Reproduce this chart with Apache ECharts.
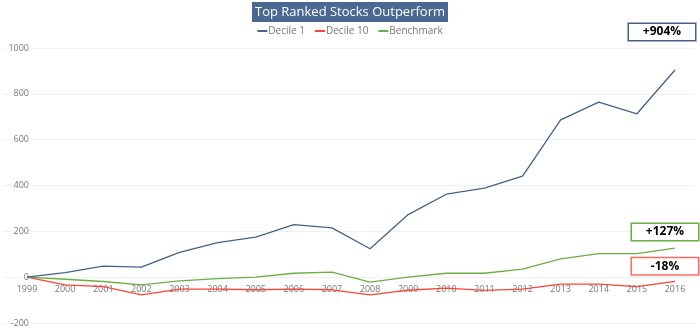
<!DOCTYPE html>
<html><head><meta charset="utf-8">
<script src="https://cdn.jsdelivr.net/npm/echarts@6/dist/echarts.min.js"></script>
<style>html,body{margin:0;padding:0;background:#fff}#c{width:700px;height:331px}</style>
</head><body><div id="c"></div>
<script>
var years = ['1999','2000','2001','2002','2003','2004','2005','2006','2007','2008','2009','2010','2011','2012','2013','2014','2015','2016'];
var decile1 = [0,20,48,44,108,151,175,229,215,124,273,362,389,441,686,764,713,904];
var decile10 = [0,-34,-41,-77,-52,-52,-55,-52,-55,-77,-57,-48,-58,-52,-30,-30,-41,-18];
var benchmark = [0,-9,-19,-34,-16,-6,0,17,22,-22,0,17,17,35,80,103,103,127];
var yTicks = {min:-200, max:1000, interval:200};
var endLabels = ['+904%','-18%','+127%'];

var FONT = '"Open Sans"';
var C1 = '#44628C', C10 = '#FF4336', CB = '#6BAE42';
var GRID_TOP = 48, GRID_BOTTOM = 8, H = 331;
var plotH = H - GRID_TOP - GRID_BOTTOM;
// move the category axis up to the zero line
var zeroOffset = -plotH * (0 - yTicks.min) / (yTicks.max - yTicks.min);

var chart = echarts.init(document.getElementById('c'), null, {renderer:'canvas'});

function endMark(label, idx, val, color, off){
  return {
    symbol:'circle', symbolSize:1, 
    data:[{coord:[idx, val], value:label}],
    itemStyle:{color:'rgba(0,0,0,0)'},
    label:{show:true, position:'inside', offset:off, formatter:label, color:'#000', fontFamily:FONT, fontWeight:'bold', fontSize:12,
      backgroundColor:'#fff', borderColor:color, borderWidth:1.5, width:66, height:14, align:'center', verticalAlign:'middle', lineHeight:14, padding:[1,0,1,0]},
    animation:false
  };
}

chart.setOption({
  animation:false,
  title:{
    text:'Top Ranked Stocks Outperform', left:'center', top:2,
    padding:[2,3,2,3], backgroundColor:'#4A6891',
    textStyle:{color:'#fff', fontFamily:FONT, fontSize:13, fontWeight:'normal', lineHeight:16}
  },
  legend:{
    top:26, left:'center', padding:0, itemWidth:10, itemHeight:2, itemGap:10, icon:'rect',
    textStyle:{color:'#777', fontFamily:FONT, fontSize:10, padding:[0,0,0,-4]},
    data:['Decile 1','Decile 10','Benchmark']
  },
  grid:[
    {left:3, right:5, top:GRID_TOP, bottom:GRID_BOTTOM, containLabel:false, outerBoundsMode:'none'},
    {left:27, right:25, top:GRID_TOP, bottom:GRID_BOTTOM, containLabel:false, outerBoundsMode:'none'}
  ],
  xAxis:[
    {gridIndex:0, type:'value', min:0, max:1, show:false, axisLine:{onZero:false}},
    {gridIndex:1, type:'category', data:years, boundaryGap:false, position:'bottom', offset:zeroOffset,
     axisLine:{show:false, onZero:false}, axisTick:{show:false}, splitLine:{show:false},
     axisLabel:{color:'#777', fontFamily:FONT, fontSize:9, margin:8, interval:0}}
  ],
  yAxis:[
    {gridIndex:0, type:'value', min:yTicks.min, max:yTicks.max, interval:yTicks.interval,
     axisLine:{show:false, onZero:false}, axisTick:{show:false},
     splitLine:{show:true, lineStyle:{color:'#F0F0F0', width:1}},
     axisLabel:{inside:true, align:'right', margin:28, color:'#777', fontFamily:FONT, fontSize:9, backgroundColor:'#fff', padding:[0,2,0,2], formatter:function(v){return String(v);}}},
    {gridIndex:1, type:'value', min:yTicks.min, max:yTicks.max, interval:yTicks.interval,
     axisLine:{show:false, onZero:false}, axisTick:{show:false}, splitLine:{show:false}, axisLabel:{show:false}}
  ],
  series:[
    {name:'Decile 1', type:'line', xAxisIndex:1, yAxisIndex:1, data:decile1, symbol:'none', z:5,
     lineStyle:{color:C1, width:1.3}, itemStyle:{color:C1},
     markPoint:endMark(endLabels[0], 17, decile1[17], C1, [-13,-38])},
    {name:'Decile 10', type:'line', xAxisIndex:1, yAxisIndex:1, data:decile10, symbol:'none', z:3,
     lineStyle:{color:C10, width:1.3}, itemStyle:{color:C10},
     markPoint:endMark(endLabels[1], 17, decile10[17], '#FF6A5E', [-10,-15])},
    {name:'Benchmark', type:'line', xAxisIndex:1, yAxisIndex:1, data:benchmark, symbol:'none', z:4,
     lineStyle:{color:CB, width:1.3}, itemStyle:{color:CB},
     markPoint:endMark(endLabels[2], 17, benchmark[17], CB, [-10,-16])}
  ]
});
</script></body></html>
